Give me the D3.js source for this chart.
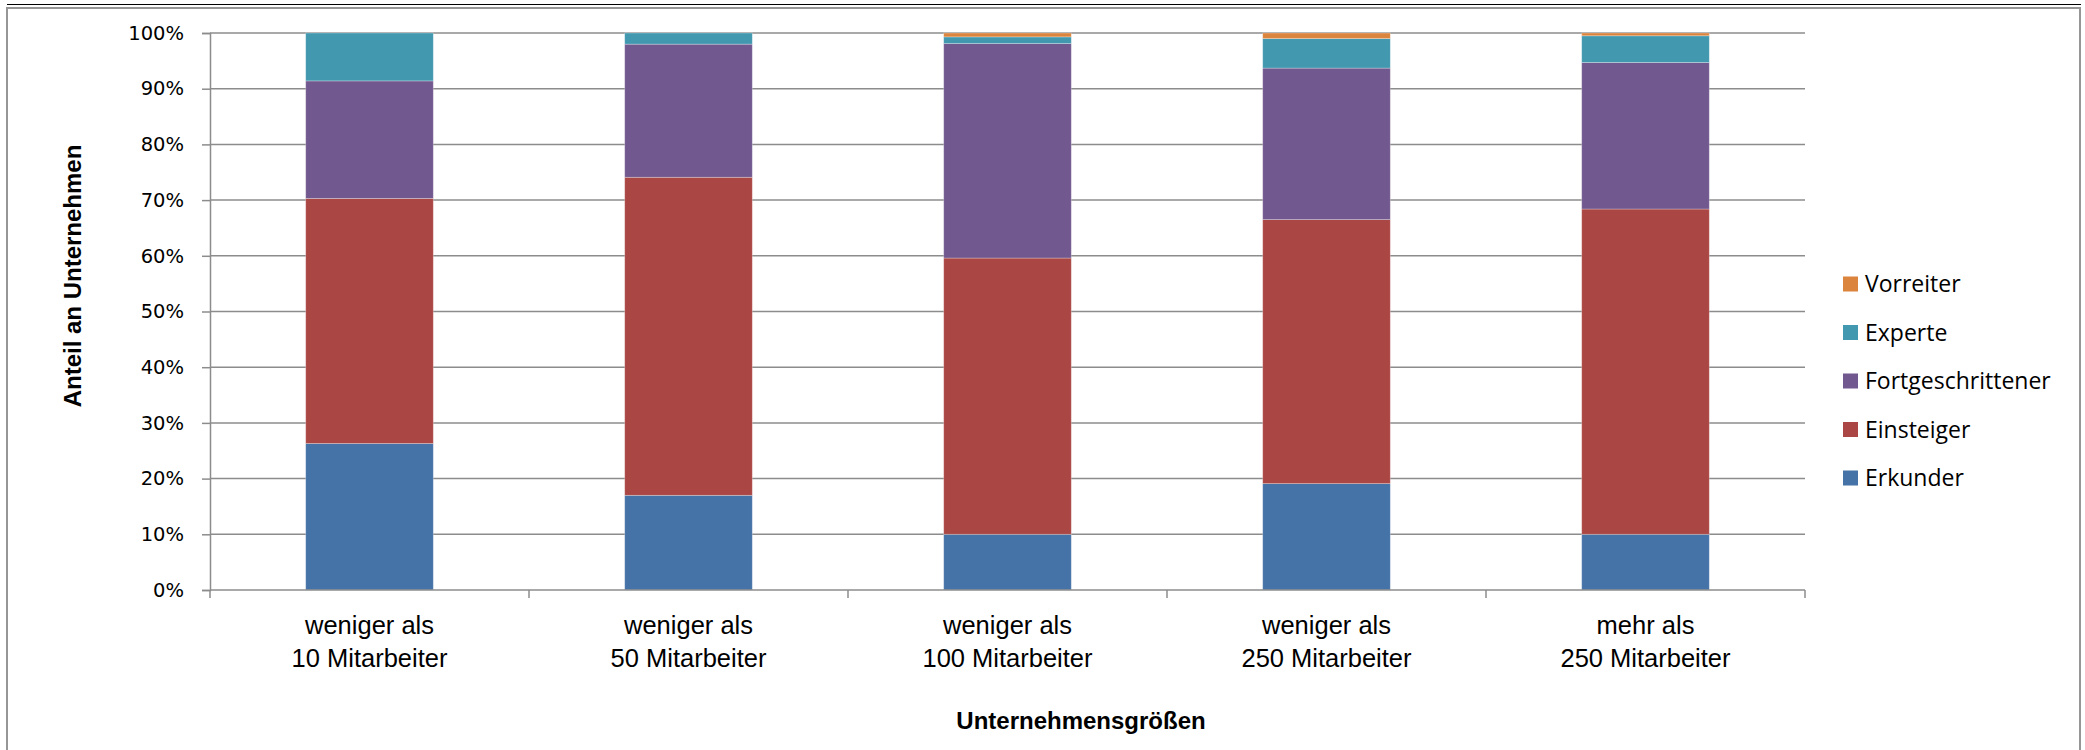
<!DOCTYPE html>
<html><head><meta charset="utf-8">
<script src="https://cdn.jsdelivr.net/npm/d3@7"></script>
<style>
html,body{margin:0;padding:0;background:#fff;}
svg{display:block;}
</style></head>
<body>
<svg id="chart" width="2085" height="750"></svg>
<script>
// ---- data ----
const categories = [
  ["weniger als", "10 Mitarbeiter"],
  ["weniger als", "50 Mitarbeiter"],
  ["weniger als", "100 Mitarbeiter"],
  ["weniger als", "250 Mitarbeiter"],
  ["mehr als", "250 Mitarbeiter"]
];
const seriesNames = ["Erkunder", "Einsteiger", "Fortgeschrittener", "Experte", "Vorreiter"];
const erkunder          = [26.3, 17.0, 10.0, 19.1, 10.0];
const einsteiger        = [44.0, 57.1, 49.6, 47.4, 58.4];
const fortgeschrittener = [21.1, 23.9, 38.5, 27.2, 26.3];
const experte           = [ 8.6,  2.0,  1.2,  5.3,  4.8];
const vorreiter         = [ 0.0,  0.0,  0.7,  1.0,  0.5];
const yTicks = [0, 10, 20, 30, 40, 50, 60, 70, 80, 90, 100];
const colors = ["#4572A7", "#AA4643", "#71588F", "#4198AF", "#DB843D"];

const seriesValues = [erkunder, einsteiger, fortgeschrittener, experte, vorreiter];
const table = categories.map((c, i) => {
  const row = {key: i};
  seriesNames.forEach((s, j) => row[s] = seriesValues[j][i]);
  return row;
});

// ---- layout ----
const svg = d3.select("#chart");
const pLeft = 210, pRight = 1805, pTop = 33, pBottom = 590;

// frame
svg.append("line").attr("x1", 7).attr("x2", 2081).attr("y1", 4.5).attr("y2", 4.5)
  .attr("stroke", "#000").attr("stroke-width", 1.2);
svg.append("rect").attr("x", 7).attr("y", 8).attr("width", 2073).attr("height", 760)
  .attr("fill", "none").attr("stroke", "#969696").attr("stroke-width", 2);

const x = d3.scaleBand().domain(d3.range(categories.length)).range([pLeft, pRight])
  .paddingInner(0.6).paddingOuter(0.3);
const xb = d3.scaleBand().domain(d3.range(categories.length)).range([pLeft, pRight]);
const y = d3.scaleLinear().domain([0, 100]).range([pBottom, pTop]);

// gridlines
svg.append("g").selectAll("line").data(yTicks.filter(t => t > 0)).join("line")
  .attr("x1", pLeft).attr("x2", pRight)
  .attr("y1", d => y(d)).attr("y2", d => y(d))
  .attr("stroke", "#8c8c8c").attr("stroke-width", 1.5);

// bars
const stack = d3.stack().keys(seriesNames);
const stacked = stack(table);
svg.append("g").selectAll("g").data(stacked).join("g")
  .attr("fill", (d, i) => colors[i])
  .selectAll("rect").data(d => d).join("rect")
  .attr("x", (d, i) => x(i))
  .attr("width", x.bandwidth())
  .attr("y", d => y(d[1]))
  .attr("height", d => Math.max(0, y(d[0]) - y(d[1])))
  .attr("stroke", "rgba(255,255,255,0.35)").attr("stroke-width", 0.8);

// y axis
const yAxis = d3.axisLeft(y).tickValues(yTicks).tickFormat(d => d + "%").tickSize(8).tickPadding(18);
const ya = svg.append("g").attr("transform", `translate(${pLeft},0)`).call(yAxis);
ya.select(".domain").attr("stroke", "#8c8c8c").attr("stroke-width", 1.5);
ya.selectAll(".tick line").attr("stroke", "#8c8c8c").attr("stroke-width", 1.5);
ya.selectAll(".tick text").attr("font-family", "'DejaVu Sans', sans-serif")
  .attr("font-size", 19.5).attr("fill", "#000");

// x axis
const xa = svg.append("g").attr("transform", `translate(0,${pBottom})`);
xa.append("line").attr("x1", pLeft).attr("x2", pRight).attr("stroke", "#8c8c8c").attr("stroke-width", 1.5);
xa.selectAll("line.tk").data(d3.range(categories.length + 1)).join("line").attr("class", "tk")
  .attr("x1", d => pLeft + d * xb.step()).attr("x2", d => pLeft + d * xb.step())
  .attr("y1", 0).attr("y2", 8).attr("stroke", "#8c8c8c").attr("stroke-width", 1.5);
const labelFont = "'Liberation Sans Narrow', 'Arial Narrow', 'Liberation Sans', sans-serif";
const xl = svg.append("g").selectAll("text").data(categories).join("text")
  .attr("x", (d, i) => xb(i) + xb.bandwidth() / 2)
  .attr("text-anchor", "middle")
  .attr("font-family", labelFont).attr("font-size", 25.5).attr("fill", "#000");
xl.selectAll("tspan").data(d => d).join("tspan")
  .attr("x", function() { return d3.select(this.parentNode).attr("x"); })
  .attr("y", (d, j) => 634 + j * 33)
  .text(d => d);

// axis titles
svg.append("text").attr("x", 1081).attr("y", 729).attr("text-anchor", "middle")
  .attr("font-family", labelFont).attr("font-weight", "bold").attr("font-size", 24)
  .text("Unternehmensgrößen");
svg.append("text").attr("transform", "translate(81,276) rotate(-90)").attr("text-anchor", "middle")
  .attr("font-family", labelFont).attr("font-weight", "bold").attr("font-size", 24)
  .text("Anteil an Unternehmen");

// legend
const legendOrder = seriesNames.map((s, i) => ({name: s, color: colors[i]})).reverse();
const lg = svg.append("g").selectAll("g").data(legendOrder).join("g")
  .attr("transform", (d, i) => `translate(1843,${284 + i * 48.5})`);
lg.append("rect").attr("x", 0).attr("y", -7.5).attr("width", 15).attr("height", 15).attr("fill", d => d.color);
lg.append("text").attr("x", 22).attr("y", 0).attr("dy", "0.35em")
  .attr("font-family", "'Open Sans', sans-serif").attr("font-size", 23).attr("fill", "#000")
  .text(d => d.name);
</script>
</body></html>
